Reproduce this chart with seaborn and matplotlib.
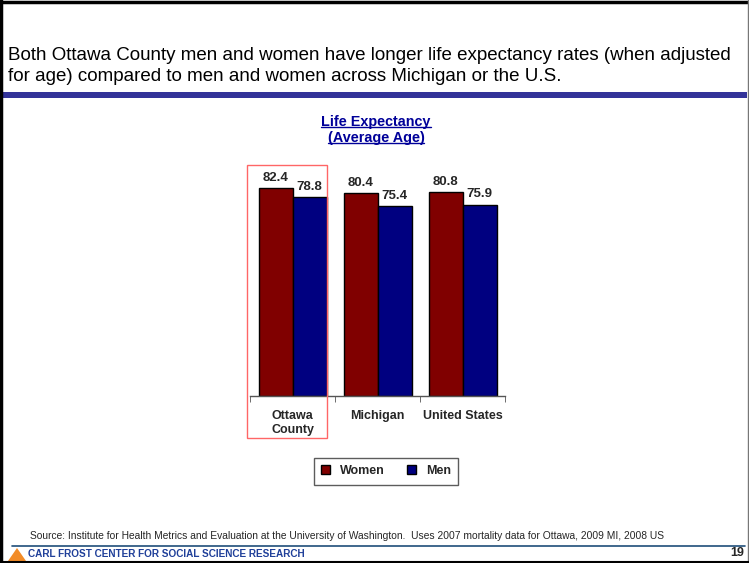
import matplotlib
matplotlib.use("Agg")
import matplotlib.pyplot as plt
import numpy as np
import pandas as pd
import seaborn as sns
from matplotlib.lines import Line2D
from matplotlib.patches import Rectangle, Polygon

# Data
places = ["Ottawa\nCounty", "Michigan", "United States"]
women = [82.4, 80.4, 80.8]
men = [78.8, 75.4, 75.9]
groups = ["Women", "Men"]
colors = {"Women": "#800000", "Men": "#000080"}

df = pd.DataFrame({
    "place": places * 2,
    "group": ["Women"] * 3 + ["Men"] * 3,
    "age": women + men,
})

sns.set_style("white")
plt.rcParams["font.family"] = ["Liberation Sans", "DejaVu Sans"]

W, H = 749, 563
fig = plt.figure(figsize=(W / 100, H / 100), dpi=100)


def fx(px):
    return px / W


def fy(py):
    return 1 - py / H


# Chart axes
ax = fig.add_axes([fx(250), fy(396), fx(505) - fx(250), fy(169) - fy(396)])
sns.barplot(data=df, x="place", y="age", hue="group", order=places,
            hue_order=groups, palette=colors, saturation=1, edgecolor="black",
            linewidth=1, ax=ax, legend=True)
ax.set_ylim(0, 90)
ax.set_xlim(-0.5, 2.5)
ax.set_xlabel("")
ax.set_ylabel("")
ax.set_yticks([])
for s in ["top", "left", "right"]:
    ax.spines[s].set_visible(False)
ax.spines["bottom"].set_color("#555555")
ax.spines["bottom"].set_linewidth(1)
ax.tick_params(axis="x", which="major", length=0, pad=10)
ax.set_xticks([-0.5, 0.5, 1.5, 2.5], minor=True)
ax.tick_params(axis="x", which="minor", length=4, direction="out",
               color="#555555", bottom=True)
for lab in ax.get_xticklabels():
    lab.set_fontweight("bold")
    lab.set_fontsize(9)

for c in ax.containers:
    ax.bar_label(c, fmt="%.1f", padding=3, fontsize=9.5, fontweight="bold")

# Legend
handles, labels = ax.get_legend_handles_labels()
ax.legend_.remove()
leg = fig.legend(handles, labels, loc="center", ncol=2,
                 bbox_to_anchor=(fx(386), fy(471)), frameon=True,
                 fancybox=False, edgecolor="#333333", handlelength=0.7,
                 handleheight=0.7, handletextpad=0.8, columnspacing=1.8,
                 borderpad=0.6, prop={"weight": "bold", "size": 9})
leg.get_frame().set_linewidth(1)

# Red highlight box around Ottawa
fig.add_artist(Rectangle((fx(247), fy(438)), fx(327) - fx(247), fy(165) - fy(438),
                         transform=fig.transFigure, fill=False,
                         edgecolor="#ff6666", linewidth=1))

# Headline text
fig.text(fx(8), fy(55), "Both Ottawa County men and women have longer life expectancy rates (when adjusted",
         fontsize=13.5, va="center", ha="left", color="black")
fig.text(fx(8), fy(77), "for age) compared to men and women across Michigan or the U.S.",
         fontsize=13.5, va="center", ha="left", color="black")

# Blue band
fig.add_artist(Rectangle((fx(3), fy(98)), fx(747) - fx(3), fy(92) - fy(98),
                         transform=fig.transFigure, color="#333399", lw=0))

# Chart title, underlined
t1 = fig.text(fx(376), fy(122), "Life Expectancy", fontsize=10.4, fontweight="bold",
              color="#000099", ha="center", va="center")
t2 = fig.text(fx(376), fy(138), "(Average Age)", fontsize=10.4, fontweight="bold",
              color="#000099", ha="center", va="center")
fig.canvas.draw()
r = fig.canvas.get_renderer()
for t in (t1, t2):
    bb = t.get_window_extent(r).transformed(fig.transFigure.inverted())
    fig.add_artist(Line2D([bb.x0, bb.x1], [bb.y0 + 0.003, bb.y0 + 0.003],
                          transform=fig.transFigure, color="#000099", lw=1))

# Source
fig.text(fx(30), fy(536), "Source: Institute for Health Metrics and Evaluation at the University of Washington.  "
         "Uses 2007 mortality data for Ottawa, 2009 MI, 2008 US",
         fontsize=7.4, va="center", ha="left")

# Footer
fig.add_artist(Line2D([fx(12), fx(745)], [fy(546), fy(546)],
                      transform=fig.transFigure, color="#1f4e79", lw=1.2))
fig.add_artist(Polygon([[fx(8), fy(561)], [fx(17), fy(548)], [fx(26), fy(561)]],
                       closed=True, transform=fig.transFigure,
                       facecolor="#f28c28", edgecolor="none"))
fig.text(fx(28), fy(554), "CARL FROST CENTER FOR SOCIAL SCIENCE RESEARCH",
         fontsize=7.2, fontweight="bold", color="#1f3f99", va="center", ha="left")
fig.text(fx(744), fy(553), "19", fontsize=9, fontweight="bold",
         va="center", ha="right")

# Slide border
fig.add_artist(Line2D([fx(1), fx(1)], [0, 1], transform=fig.transFigure, color="black", lw=2.5))
fig.add_artist(Line2D([0, 1], [fy(1.5), fy(1.5)], transform=fig.transFigure, color="black", lw=2.5))
fig.add_artist(Line2D([fx(747.5), fx(747.5)], [0, 1], transform=fig.transFigure, color="#777777", lw=1))
fig.add_artist(Line2D([0, 1], [fy(561.5), fy(561.5)], transform=fig.transFigure, color="black", lw=1.5))

fig.savefig("out.png", dpi=100)
